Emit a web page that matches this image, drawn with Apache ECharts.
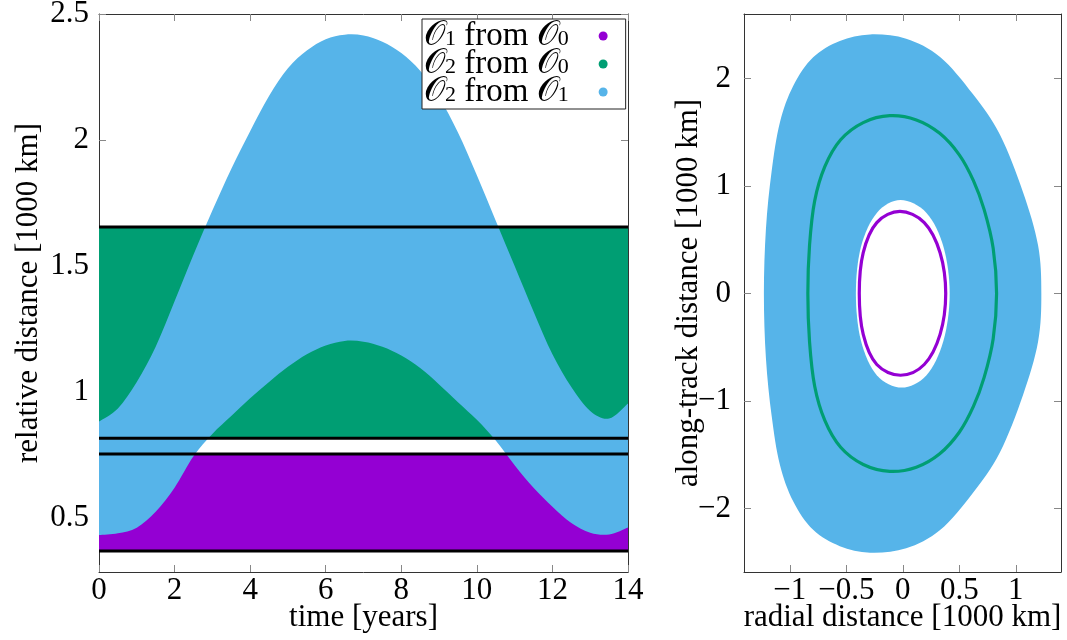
<!DOCTYPE html>
<html>
<head>
<meta charset="utf-8">
<title>Relative distances between orbits</title>
<script src="https://cdn.jsdelivr.net/npm/echarts@6/dist/echarts.min.js"></script>
<style>
  html, body { margin: 0; padding: 0; background: #fff; }
  #chart { width: 1067px; height: 640px; }
</style>
</head>
<body>
<div id="chart"></div>
<script>
// ---- left panel: distance ranges over time ----
const years = [0, 0.5, 1, 1.5, 2, 2.5, 3, 3.5, 4, 4.5, 5, 5.5, 6, 6.5, 7,
               7.5, 8, 8.5, 9, 9.5, 10, 10.5, 11, 11.5, 12, 12.5, 13, 13.5, 14];
const o2FromO1Upper = [0.883, 0.935, 1.04, 1.18, 1.36, 1.545, 1.72, 1.885, 2.035, 2.175, 2.285, 2.355, 2.40, 2.418, 2.415,
                       2.39, 2.345, 2.275, 2.17, 2.03, 1.86, 1.68, 1.50, 1.32, 1.15, 1.02, 0.925, 0.895, 0.955];
const o2FromO1Lower = [0.433, 0.44, 0.462, 0.525, 0.62, 0.745, 0.834, 0.905, 0.975, 1.04, 1.10, 1.15, 1.185, 1.203, 1.2,
                       1.18, 1.145, 1.095, 1.03, 0.96, 0.89, 0.808, 0.71, 0.62, 0.545, 0.48, 0.442, 0.435, 0.463];
const o1FromO0Range = [0.369, 0.754];
const o2FromO0Range = [0.817, 1.655];
const rangeLimits = [1.655, 0.817, 0.754, 0.369];
const timeTicks = [0, 2, 4, 6, 8, 10, 12, 14];
const distanceTicks = [0.5, 1, 1.5, 2, 2.5];

// ---- right panel: relative positions (radial, along-track) ----
const radialTicks = [-1, -0.5, 0, 0.5, 1];
const alongTrackTicks = [-2, -1, 0, 1, 2];
const o2FromO1Outer = [[-0.29, 2.41], [0.03, 2.37], [0.33, 2.2], [0.62, 1.855], [0.86, 1.476], [1.064, 0.943],
  [1.197, 0.449], [1.226, 0], [1.197, -0.449], [1.064, -0.943], [0.86, -1.476], [0.62, -1.855], [0.33, -2.2],
  [0.03, -2.37], [-0.29, -2.41], [-0.557, -2.35], [-0.793, -2.198], [-0.97, -1.931], [-1.088, -1.589],
  [-1.161, -1.133], [-1.211, -0.601], [-1.229, 0], [-1.211, 0.601], [-1.161, 1.133], [-1.088, 1.589],
  [-0.97, 1.931], [-0.793, 2.198], [-0.557, 2.35]];
const o2FromO1Inner = [[-0.02, 0.87], [0.21, 0.75], [0.36, 0.435], [0.415, 0], [0.36, -0.44], [0.21, -0.76],
  [-0.01, -0.875], [-0.23, -0.76], [-0.37, -0.44], [-0.415, 0], [-0.37, 0.435], [-0.23, 0.75]];
const o2FromO0Orbit = [[-0.115, 1.654], [0.12, 1.615], [0.327, 1.49], [0.5, 1.29], [0.625, 1.05], [0.72, 0.78],
  [0.8, 0.42], [0.83, 0], [0.8, -0.42], [0.72, -0.78], [0.625, -1.05], [0.5, -1.29], [0.327, -1.49],
  [0.12, -1.615], [-0.115, -1.654], [-0.35, -1.59], [-0.55, -1.43], [-0.69, -1.18], [-0.78, -0.86],
  [-0.825, -0.45], [-0.84, 0], [-0.825, 0.45], [-0.78, 0.86], [-0.69, 1.18], [-0.55, 1.43], [-0.35, 1.59]];
const o1FromO0Orbit = [[-0.025, 0.764], [0.19, 0.66], [0.33, 0.38], [0.38, 0], [0.33, -0.38], [0.19, -0.66],
  [-0.02, -0.76], [-0.23, -0.66], [-0.35, -0.38], [-0.385, 0], [-0.35, 0.38], [-0.23, 0.66]];

const PURPLE = '#9400d3', GREEN = '#009e73', BLUE = '#56b4e9';
const FONT = "'Liberation Serif', 'Times New Roman', serif";
const FS = 31;
const BORDER = '#333';
const TICK = '#888';

const NAME_O1O0 = 'O1 from O0', NAME_O2O0 = 'O2 from O0', NAME_O2O1 = 'O2 from O1';

// Catmull-Rom curve through pixel points, as SVG path commands (without the leading move)
function curveThrough(pts, closed) {
  const n = pts.length;
  const at = i => closed ? pts[(i + n) % n] : pts[Math.max(0, Math.min(n - 1, i))];
  let d = '';
  const last = closed ? n : n - 1;
  for (let i = 0; i < last; i++) {
    const p0 = at(i - 1), p1 = at(i), p2 = at(i + 1), p3 = at(i + 2);
    const c1 = [p1[0] + (p2[0] - p0[0]) / 6, p1[1] + (p2[1] - p0[1]) / 6];
    const c2 = [p2[0] - (p3[0] - p1[0]) / 6, p2[1] - (p3[1] - p1[1]) / 6];
    d += ' C' + c1[0] + ' ' + c1[1] + ' ' + c2[0] + ' ' + c2[1] + ' ' + p2[0] + ' ' + p2[1];
  }
  return d;
}

function rangeRect(color) {
  return function (params, api) {
    const p0 = api.coord([api.value(0), api.value(2)]);
    const p1 = api.coord([api.value(1), api.value(3)]);
    return { type: 'rect', shape: { x: p0[0], y: p1[1], width: p1[0] - p0[0], height: p0[1] - p1[1] },
             style: { fill: color } };
  };
}
// band between lower and upper edges over time
function bandRender(params, api) {
  if (params.dataIndex !== 0) return null;
  const up = years.map((t, i) => api.coord([t, o2FromO1Upper[i]]));
  const lo = years.map((t, i) => api.coord([t, o2FromO1Lower[i]])).reverse();
  const d = 'M' + up[0][0] + ' ' + up[0][1] + curveThrough(up, false) +
            ' L' + lo[0][0] + ' ' + lo[0][1] + curveThrough(lo, false) + ' Z';
  return { type: 'path', shape: { pathData: d }, style: { fill: BLUE } };
}
function loop(points, style) {
  return function (params, api) {
    if (params.dataIndex !== 0) return null;
    const pts = points.map(p => api.coord(p));
    const d = 'M' + pts[0][0] + ' ' + pts[0][1] + curveThrough(pts, true) + ' Z';
    return { type: 'path', shape: { pathData: d }, style: style };
  };
}

function valueAxis(extra) {
  return Object.assign({
    type: 'value',
    axisLine: { show: true, onZero: false, lineStyle: { color: BORDER, width: 1 } },
    splitLine: { show: false },
    axisLabel: { show: false },
    nameMoveOverlap: false,
    nameTextStyle: { fontFamily: FONT, fontSize: FS, color: '#000' }
  }, extra);
}
function ticks(values) {
  return { show: true, inside: true, length: 7, customValues: values, lineStyle: { color: TICK } };
}
function labels(values, margin) {
  return { show: true, customValues: values, fontFamily: FONT, fontSize: FS, color: '#000', margin: margin,
           formatter: v => String(v).replace('-', '\u2212') };
}

const legendText = {
  o: { fontFamily: FONT, fontSize: 34, color: '#000', lineHeight: 28 },
  s: { fontFamily: FONT, fontSize: 22, color: '#000', lineHeight: 10, verticalAlign: 'bottom' },
  e: { fontFamily: FONT, fontSize: 22, color: '#000', lineHeight: 10, verticalAlign: 'bottom', padding: [0, 25, 0, 0] },
  t: { fontFamily: FONT, fontSize: 33, color: '#000', lineHeight: 28 }
};
function legendLabel(name) {
  const a = name.charAt(1), b = name.charAt(name.length - 1);
  return '{o|\uD835\uDCAA}{s|' + a + '}{t| from }{o|\uD835\uDCAA}{e|' + b + '}';
}

const chart = echarts.init(document.getElementById('chart'));
chart.setOption({
  animation: false,
  backgroundColor: '#fff',
  grid: [
    { left: 99, top: 14, width: 529, height: 558, outerBoundsMode: 'none', containLabel: false },
    { left: 744, top: 14, width: 317, height: 558, outerBoundsMode: 'none', containLabel: false }
  ],
  xAxis: [
    valueAxis({ gridIndex: 0, position: 'bottom', min: 0, max: 14, interval: 2,
      axisLabel: labels(timeTicks, 3), axisTick: ticks(timeTicks),
      name: 'time [years]', nameLocation: 'middle', nameGap: 30 }),
    valueAxis({ gridIndex: 0, position: 'top', min: 0, max: 14, interval: 2, axisTick: ticks(timeTicks) }),
    valueAxis({ gridIndex: 1, position: 'bottom', min: -1.405, max: 1.4,
      axisLabel: labels(radialTicks, 3), axisTick: ticks(radialTicks),
      name: 'radial distance [1000 km]', nameLocation: 'middle', nameGap: 30 }),
    valueAxis({ gridIndex: 1, position: 'top', min: -1.405, max: 1.4, axisTick: ticks(radialTicks) })
  ],
  yAxis: [
    valueAxis({ gridIndex: 0, position: 'left', min: 0.286, max: 2.5,
      axisLabel: labels(distanceTicks, 10), axisTick: ticks(distanceTicks),
      name: 'relative distance [1000 km]', nameLocation: 'middle', nameGap: 55 }),
    valueAxis({ gridIndex: 0, position: 'right', min: 0.286, max: 2.5, axisTick: ticks(distanceTicks) }),
    valueAxis({ gridIndex: 1, position: 'left', min: -2.59, max: 2.6,
      axisLabel: labels(alongTrackTicks, 13), axisTick: ticks(alongTrackTicks),
      name: 'along-track distance [1000 km]', nameLocation: 'middle', nameGap: 40 }),
    valueAxis({ gridIndex: 1, position: 'right', min: -2.59, max: 2.6, axisTick: ticks(alongTrackTicks) })
  ],
  legend: {
    left: 422, top: 19, orient: 'vertical', align: 'right', selectedMode: false,
    icon: 'circle', itemWidth: 9, itemHeight: 9, itemGap: -6,
    padding: [0, 18, 0, 2],
    backgroundColor: '#fff', borderColor: '#222', borderWidth: 1,
    textStyle: { lineHeight: 28, rich: legendText },
    formatter: legendLabel,
    data: [
      { name: NAME_O1O0, itemStyle: { color: PURPLE } },
      { name: NAME_O2O0, itemStyle: { color: GREEN } },
      { name: NAME_O2O1, itemStyle: { color: BLUE } }
    ]
  },
  series: [
    // left panel
    { type: 'custom', name: NAME_O1O0, xAxisIndex: 0, yAxisIndex: 0, z: 1, itemStyle: { color: PURPLE },
      encode: { x: [0, 1], y: [2, 3] }, renderItem: rangeRect(PURPLE),
      data: [[years[0], years[years.length - 1], o1FromO0Range[0], o1FromO0Range[1]]] },
    { type: 'custom', name: NAME_O2O0, xAxisIndex: 0, yAxisIndex: 0, z: 1, itemStyle: { color: GREEN },
      encode: { x: [0, 1], y: [2, 3] }, renderItem: rangeRect(GREEN),
      data: [[years[0], years[years.length - 1], o2FromO0Range[0], o2FromO0Range[1]]] },
    { type: 'custom', name: NAME_O2O1, xAxisIndex: 0, yAxisIndex: 0, z: 2, itemStyle: { color: BLUE },
      encode: { x: 0, y: [1, 2] }, renderItem: bandRender, clip: true,
      data: years.map((t, i) => [t, o2FromO1Lower[i], o2FromO1Upper[i]]) },
    { type: 'custom', name: 'limits', xAxisIndex: 0, yAxisIndex: 0, z: 3,
      encode: { x: [0, 1], y: 2 },
      renderItem: function (params, api) {
        const a = api.coord([api.value(0), api.value(2)]);
        const b = api.coord([api.value(1), api.value(2)]);
        return { type: 'line', shape: { x1: a[0], y1: a[1], x2: b[0], y2: b[1] },
                 style: { stroke: '#000', lineWidth: 3 } };
      },
      data: rangeLimits.map(v => [years[0], years[years.length - 1], v]) },
    // right panel
    { type: 'custom', name: NAME_O2O1, xAxisIndex: 2, yAxisIndex: 2, z: 1, itemStyle: { color: BLUE },
      renderItem: loop(o2FromO1Outer, { fill: BLUE }), data: o2FromO1Outer },
    { type: 'custom', name: 'inner-gap', xAxisIndex: 2, yAxisIndex: 2, z: 2,
      renderItem: loop(o2FromO1Inner, { fill: '#fff' }), data: o2FromO1Inner },
    { type: 'custom', name: NAME_O2O0, xAxisIndex: 2, yAxisIndex: 2, z: 3, itemStyle: { color: GREEN },
      renderItem: loop(o2FromO0Orbit, { fill: null, stroke: GREEN, lineWidth: 3.2 }), data: o2FromO0Orbit },
    { type: 'custom', name: NAME_O1O0, xAxisIndex: 2, yAxisIndex: 2, z: 3, itemStyle: { color: PURPLE },
      renderItem: loop(o1FromO0Orbit, { fill: null, stroke: PURPLE, lineWidth: 3.2 }), data: o1FromO0Orbit }
  ]
});
</script>
</body>
</html>
